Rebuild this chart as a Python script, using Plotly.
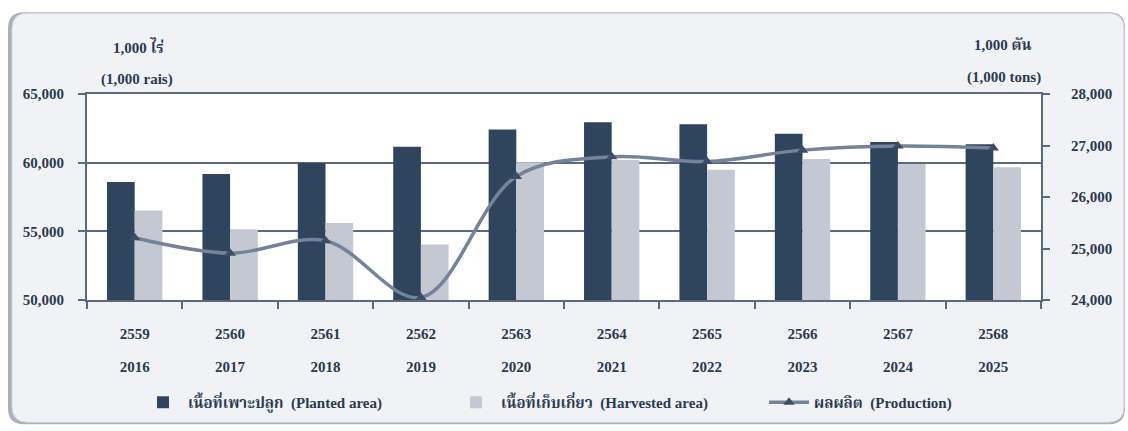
import plotly.graph_objects as go

# ---------------- data ----------------
thai_years = ["2559", "2560", "2561", "2562", "2563", "2564", "2565", "2566", "2567", "2568"]
ad_years = ["2016", "2017", "2018", "2019", "2020", "2021", "2022", "2023", "2024", "2025"]
planted = [58600, 59170, 59980, 61150, 62420, 62940, 62800, 62110, 61510, 61340]
harvested = [56510, 55150, 55600, 54040, 60030, 60190, 59480, 60270, 59910, 59670]
production = [25210, 24910, 25150, 24050, 26400, 26780, 26690, 26910, 26990, 26950]
left_ticks = [50000, 55000, 60000, 65000]
right_ticks = [24000, 25000, 26000, 27000, 28000]
names = ["เนื้อที่เพาะปลูก  (Planted area)", "เนื้อที่เก็บเกี่ยว  (Harvested area)", "ผลผลิต  (Production)"]

# ---------------- style ----------------
W, H = 1128, 431
ML, MR, MT, MB = 87, 87, 94, 128
PW, PH = W - ML - MR, H - MT - MB
TXT = "#2a3a50"
AX = "#5a6a80"
FONT = "Liberation Serif, Times New Roman, Noto Serif Thai, Noto Sans Thai, serif"


def px(x):
    return (x - ML) / PW


def py(y):
    return (H - MB - y) / PH


fig = go.Figure()
fig.add_trace(go.Bar(x=thai_years, y=planted, name=names[0],
                     marker=dict(color="#2f455e", line=dict(width=0))))
fig.add_trace(go.Bar(x=thai_years, y=harvested, name=names[1],
                     marker=dict(color="#c3c8d3", line=dict(width=0))))
fig.add_trace(go.Scatter(x=thai_years, y=production, name=names[2], yaxis="y2",
                         mode="lines+markers",
                         line=dict(color="#74839a", width=3.5, shape="spline", smoothing=1),
                         marker=dict(symbol="triangle-up", size=10, color="#3c4e66")))
# helper trace so the second label row axis is drawn
fig.add_trace(go.Scatter(x=[0], y=[None], xaxis="x2", showlegend=False, hoverinfo="skip"))

# panel (rounded) + white plot area
x0, x1 = px(10), px(1124)
y0, y1 = py(427), py(12)
rx, ry = 16 / PW, 16 / PH


def rounded(x0, x1, y0, y1):
    return (f"M {x0+rx},{y1} L {x1-rx},{y1} Q {x1},{y1} {x1},{y1-ry} "
            f"L {x1},{y0+ry} Q {x1},{y0} {x1-rx},{y0} L {x0+rx},{y0} "
            f"Q {x0},{y0} {x0},{y0+ry} L {x0},{y1-ry} Q {x0},{y1} {x0+rx},{y1} Z")


shapes = [
    dict(type="path", xref="paper", yref="paper", layer="below",
         path=rounded(x0 - 2 / PW, x1 + 1 / PW, y0 - 2 / PH, y1 + 1 / PH),
         fillcolor="#aab1bc", line=dict(width=0)),
    dict(type="path", xref="paper", yref="paper", layer="below",
         path=rounded(x0 + 2 / PW, x1, y0, y1),
         fillcolor="#f1f2f5", line=dict(color="#d3d7de", width=1)),
    dict(type="rect", xref="paper", yref="paper", layer="below",
         x0=0, x1=1, y0=0, y1=1, fillcolor="white", line=dict(width=0)),
]

annotations = [
    dict(text="1,000 ไร่", x=px(138), y=py(46)),
    dict(text="(1,000 rais)", x=px(137), y=py(79)),
    dict(text="1,000 ตัน", x=px(1003), y=py(44)),
    dict(text="(1,000 tons)", x=px(1004), y=py(77)),
]
for a in annotations:
    a.update(xref="paper", yref="paper", showarrow=False, xanchor="center", yanchor="middle",
             font=dict(family=FONT, size=15, color=TXT, weight="bold"))

tickfont = dict(family=FONT, size=15, color=TXT, weight="bold")

fig.update_layout(
    width=W, height=H, autosize=False,
    margin=dict(l=ML, r=MR, t=MT, b=MB, pad=0),
    paper_bgcolor="white", plot_bgcolor="rgba(0,0,0,0)",
    barmode="group", bargap=0.42, bargroupgap=0,
    shapes=shapes, annotations=annotations,
    font=dict(family=FONT, color=TXT),
    showlegend=True,
    legend=dict(orientation="h", x=px(138), xanchor="left", y=py(407), yanchor="middle",
                font=dict(family=FONT, size=15, color=TXT, weight="bold"),
                itemwidth=40, bgcolor="rgba(0,0,0,0)", traceorder="normal",
                entrywidth=258, entrywidthmode="pixels"),
    xaxis=dict(type="category", categoryorder="array", categoryarray=thai_years,
               range=[-0.5, 9.5], tickson="boundaries", ticks="outside", ticklen=7,
               tickwidth=2, tickcolor=AX, showline=True, linecolor=AX, linewidth=2,
               mirror=True, showgrid=False, zeroline=False, tickfont=tickfont,
               ticklabelstandoff=19),
    xaxis2=dict(overlaying="x", anchor="y", side="bottom", type="linear",
                range=[-0.5, 9.5], tickmode="array", tickvals=list(range(len(ad_years))),
                ticktext=ad_years, ticks="", showline=False, showgrid=False,
                zeroline=False, tickfont=tickfont, ticklabelstandoff=56),
    yaxis=dict(range=[left_ticks[0], left_ticks[-1]], tickmode="array", tickvals=left_ticks,
               tickformat=",d", showgrid=True, gridcolor=AX, gridwidth=2,
               showline=True, linecolor=AX, linewidth=2, ticks="outside", ticklen=7,
               tickwidth=2, tickcolor=AX, zeroline=False, tickfont=tickfont,
               ticklabelstandoff=11),
    yaxis2=dict(overlaying="y", side="right", range=[right_ticks[0], right_ticks[-1]],
                tickmode="array", tickvals=right_ticks, tickformat=",d", showgrid=False,
                showline=True, linecolor=AX, linewidth=2, ticks="outside", ticklen=7,
                tickwidth=2, tickcolor=AX, zeroline=False, tickfont=tickfont,
                ticklabelstandoff=18),
)

fig.write_html("out.html", config={"displayModeBar": False},
               post_script="document.body.style.margin='0px';")
